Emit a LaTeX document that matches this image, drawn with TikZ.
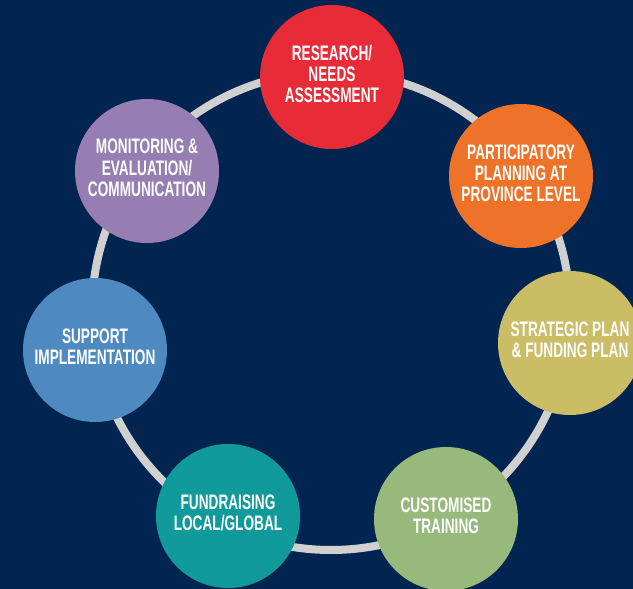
\documentclass[tikz,border=0pt]{standalone}
\usepackage{fontspec}
\usepackage{graphicx}
\setmainfont{Liberation Sans}
\definecolor{bgnavy}{HTML}{012550}
\definecolor{ringgray}{HTML}{D0D0D0}
\definecolor{cred}{HTML}{E82C37}
\definecolor{corange}{HTML}{EE7328}
\definecolor{cyellow}{HTML}{CBBD66}
\definecolor{cgreen}{HTML}{97B97C}
\definecolor{cteal}{HTML}{109A9B}
\definecolor{cblue}{HTML}{4E8ABF}
\definecolor{cpurple}{HTML}{967EB2}
\newcommand{\lbl}[1]{\scalebox{0.65}[1]{\begin{tabular}{@{}c@{}}#1\end{tabular}}}
\tikzset{
  stage/.style={circle, fill=#1, draw=none, minimum size=144pt, inner sep=0pt,
    text=white, font=\fontsize{21}{21}\selectfont\bfseries},
  ringline/.style={draw=ringgray, line width=8pt}
}
\begin{document}
\begin{tikzpicture}[x=1pt, y=-1pt]
\useasboundingbox (0,0) rectangle (633,589);
\fill[bgnavy] (0,0) rectangle (633,589);
\clip (0,0) rectangle (633,589);
\coordinate (c) at (331,311);
\draw[ringline] (c) circle[radius=239pt];
\node[stage=cred]    (n1) at (332,77)  {\lbl{RESEARCH/\\NEEDS\\ASSESSMENT}};
\node[stage=corange] (n2) at (521,176) {\lbl{PARTICIPATORY\\PLANNING AT\\PROVINCE LEVEL}};
\node[stage=cyellow] (n3) at (570,343) {\lbl{STRATEGIC PLAN\\\& FUNDING PLAN}};
\node[stage=cgreen]  (n4) at (446,519) {\lbl{CUSTOMISED\\TRAINING}};
\node[stage=cteal]   (n5) at (228,516) {\lbl{FUNDRAISING\\LOCAL/GLOBAL}};
\node[stage=cblue]   (n6) at (95,350)  {\lbl{SUPPORT\\IMPLEMENTATION}};
\node[stage=cpurple] (n7) at (147,171) {\lbl{MONITORING \&\\EVALUATION/\\COMMUNICATION}};
\end{tikzpicture}
\end{document}
